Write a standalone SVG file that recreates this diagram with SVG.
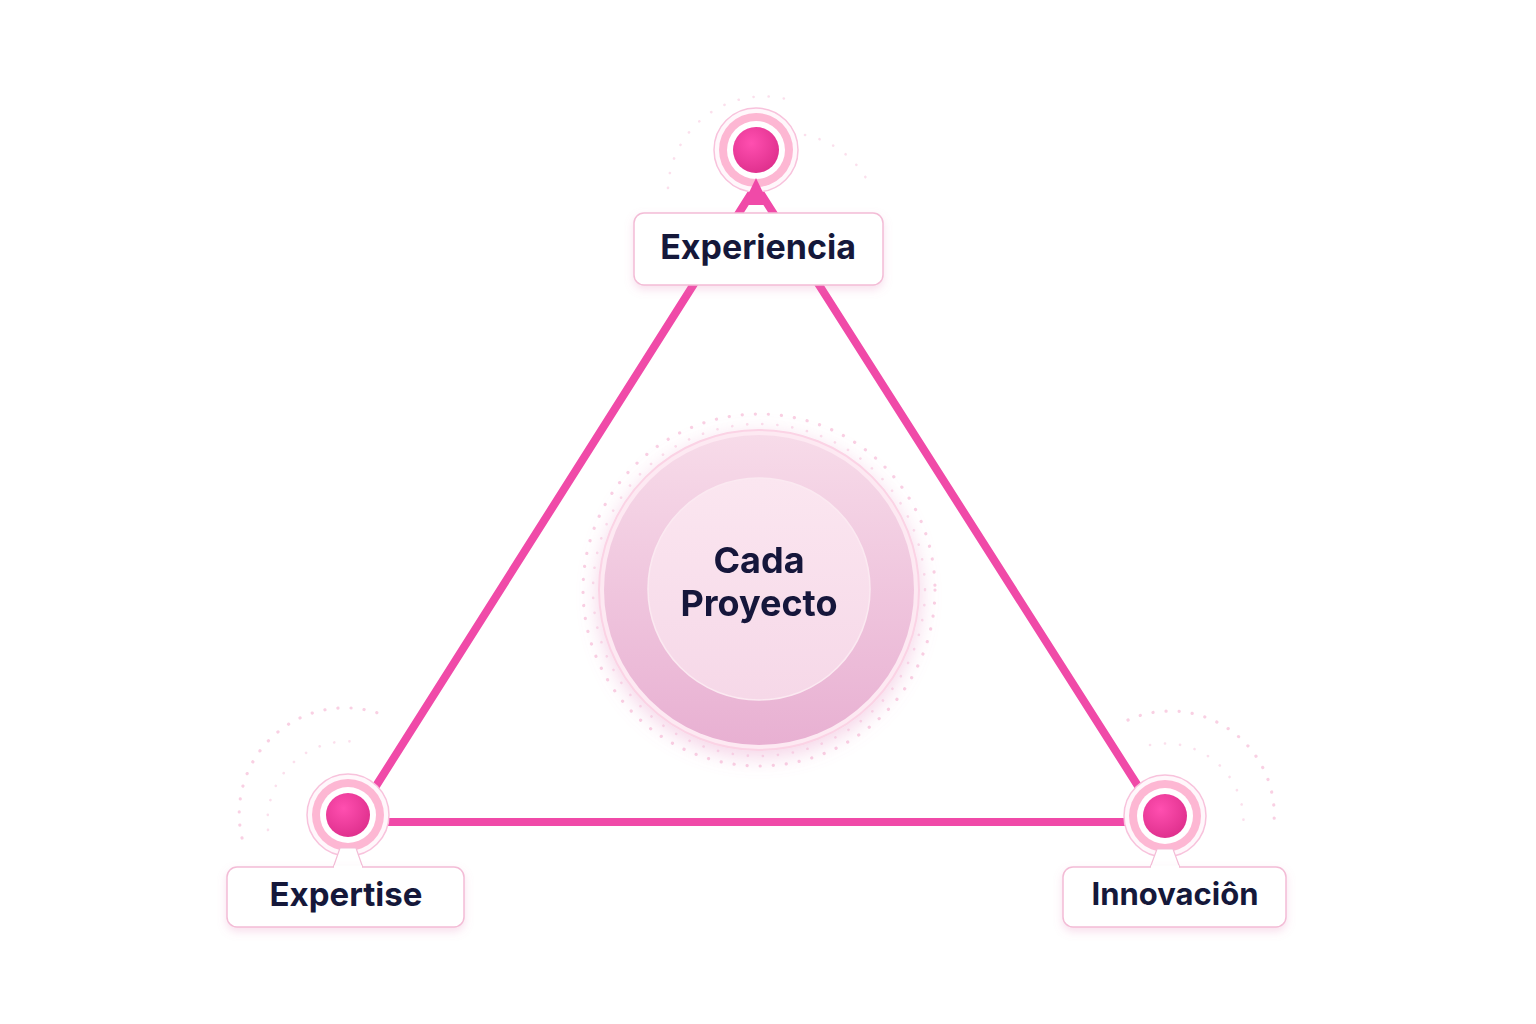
<svg xmlns="http://www.w3.org/2000/svg" width="1536" height="1024" viewBox="0 0 1536 1024">
  <defs>
    <radialGradient id="dotGrad" cx="40%" cy="35%" r="70%">
      <stop offset="0" stop-color="#ff4fb0"/>
      <stop offset="1" stop-color="#de2f8c"/>
    </radialGradient>
    <linearGradient id="outerGrad" x1="0" y1="0" x2="0" y2="1">
      <stop offset="0" stop-color="#f7dbe9"/>
      <stop offset="1" stop-color="#e8b0d2"/>
    </linearGradient>
    <linearGradient id="innerGrad" x1="0" y1="0" x2="0" y2="1">
      <stop offset="0" stop-color="#fbe6f0"/>
      <stop offset="1" stop-color="#f6d8e8"/>
    </linearGradient>
    <filter id="shadow" x="-20%" y="-20%" width="140%" height="160%">
      <feDropShadow dx="0" dy="4" stdDeviation="4" flood-color="#e27fb6" flood-opacity="0.25"/>
    </filter>
    <filter id="glow" x="-30%" y="-30%" width="160%" height="160%">
      <feDropShadow dx="0" dy="6" stdDeviation="10" flood-color="#e37fb8" flood-opacity="0.35"/>
    </filter>
    <style>
      .edge { stroke: #f04aa8; stroke-width: 8; fill: none; stroke-linecap: round; }
      .label { fill: #ffffff; stroke: #f3bcd6; stroke-width: 1.5; }
      .txt { font-family: Inter, "Noto Sans", "Liberation Sans", sans-serif; font-weight: 700; fill: #15183a; text-anchor: middle; }
      .ringOuter { fill: #fff7fb; stroke: #f8c2dc; stroke-width: 1.5; }
      .ringBand { fill: #fdb7d3; }
      .ringGap { fill: #ffffff; }
      .dots { fill: none; stroke: #f4a9cc; stroke-width: 3.2; stroke-linecap: round; stroke-dasharray: 0.1 13; opacity: 0.55; }
      .dotsFaint { fill: none; stroke: #f6b9d5; stroke-width: 2.6; stroke-linecap: round; stroke-dasharray: 0.1 15; opacity: 0.45; }
    </style>
  </defs>

  <rect width="1536" height="1024" fill="#ffffff"/>

  <!-- decorative dotted arcs -->
  <g id="decor">
    <circle class="dots" cx="759" cy="590" r="176" stroke-dasharray="0.1 11"/>
    <circle class="dotsFaint" cx="759" cy="590" r="166" stroke-dasharray="0.1 13" opacity="0.3"/>
    <path class="dots" d="M 242 838 A 106 106 0 0 1 386 716"/>
    <path class="dotsFaint" d="M 268 830 A 80 80 0 0 1 358 742"/>
    <path class="dots" d="M 1128 720 A 104 104 0 0 1 1274 822"/>
    <path class="dotsFaint" d="M 1150 745 A 78 78 0 0 1 1243 830"/>
    <path class="dotsFaint" d="M 668 188 A 96 96 0 0 1 790 100"/>
    <path class="dotsFaint" d="M 805 135 A 92 92 0 0 1 872 190"/>
  </g>

  <!-- connectors -->
  <g id="connectors">
    <line class="edge" x1="756" y1="186" x2="376" y2="786"/>
    <line class="edge" x1="756" y1="186" x2="1138" y2="786"/>
    <line class="edge" x1="388" y1="822" x2="1126" y2="822"/>
  </g>

  <!-- center -->
  <g id="center" filter="url(#glow)">
    <circle cx="759" cy="590" r="160" fill="#fde9f2" stroke="#fbd3e5" stroke-width="2"/>
    <circle cx="759" cy="590" r="155" fill="url(#outerGrad)"/>
    <circle cx="759" cy="589" r="111" fill="url(#innerGrad)" stroke="#fbe9f1" stroke-width="1.5"/>
    <text class="txt" x="759" y="573" font-size="36">Cada</text>
    <text class="txt" x="759" y="616" font-size="36">Proyecto</text>
  </g>

  <!-- top node -->
  <g id="node-experiencia">
    <circle class="ringOuter" cx="756" cy="150" r="42"/>
    <circle class="ringBand" cx="756" cy="150" r="37"/>
    <circle class="ringGap" cx="756" cy="150" r="29"/>
    <circle cx="756" cy="150" r="23" fill="url(#dotGrad)"/>
    <path d="M 756 178 L 743 205 L 769 205 Z" fill="#f04aa8"/>
    <rect class="label" x="634" y="213" width="249" height="72" rx="10" filter="url(#shadow)"/>
    <text class="txt" x="758" y="259" font-size="34">Experiencia</text>
  </g>

  <!-- bottom-left node -->
  <g id="node-expertise">
    <circle class="ringOuter" cx="348" cy="815" r="41"/>
    <circle class="ringBand" cx="348" cy="815" r="36"/>
    <circle class="ringGap" cx="348" cy="815" r="28"/>
    <circle cx="348" cy="815" r="22" fill="url(#dotGrad)"/>
    <path d="M 340 848 L 356 848 L 363 868 L 333 868 Z" fill="#ffffff" stroke="#f3bcd6" stroke-width="1.2"/>
    <rect class="label" x="227" y="867" width="237" height="60" rx="10" filter="url(#shadow)"/>
    <path d="M 334 867 L 362 867" stroke="#ffffff" stroke-width="3"/>
    <text class="txt" x="346" y="906" font-size="33">Expertise</text>
  </g>

  <!-- bottom-right node -->
  <g id="node-innovacion">
    <circle class="ringOuter" cx="1165" cy="816" r="41"/>
    <circle class="ringBand" cx="1165" cy="816" r="36"/>
    <circle class="ringGap" cx="1165" cy="816" r="28"/>
    <circle cx="1165" cy="816" r="22" fill="url(#dotGrad)"/>
    <path d="M 1157 849 L 1173 849 L 1180 868 L 1150 868 Z" fill="#ffffff" stroke="#f3bcd6" stroke-width="1.2"/>
    <rect class="label" x="1063" y="867" width="223" height="60" rx="10" filter="url(#shadow)"/>
    <path d="M 1151 867 L 1179 867" stroke="#ffffff" stroke-width="3"/>
    <text class="txt" x="1175" y="905" font-size="31">Innovaciôn</text>
  </g>
</svg>
